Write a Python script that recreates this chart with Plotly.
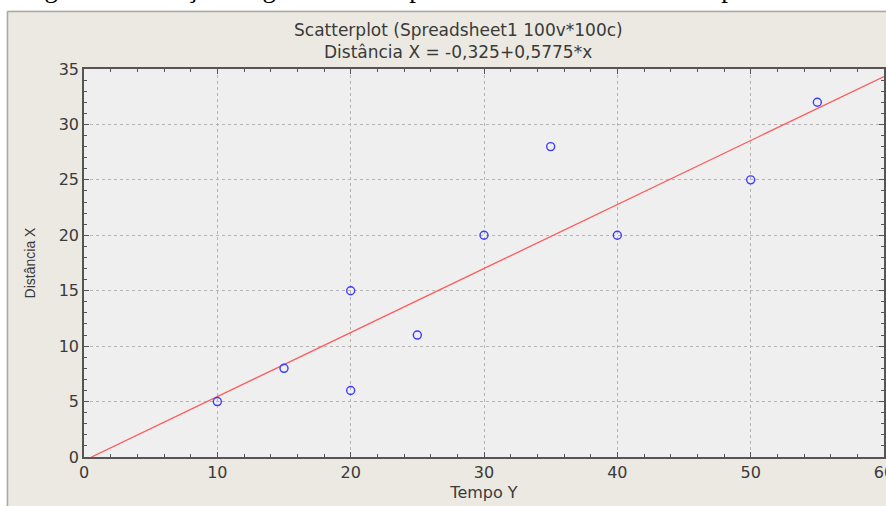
import numpy as np
import plotly.graph_objects as go

tempo = [10, 15, 20, 20, 25, 30, 35, 40, 50, 55]
distancia = [5, 8, 15, 6, 11, 20, 28, 20, 25, 32]
intercept = -0.325
slope = 0.5775
x_ticks = [0, 10, 20, 30, 40, 50, 60]
y_ticks = [0, 5, 10, 15, 20, 25, 30, 35]

W, H = 886, 506
L, R, T, B = 84, 2, 69, 49
pw, ph = W - L - R, H - T - B

def px_x(p):
    return (p - L) / pw

def px_y(p):
    return (H - B - p) / ph

x_start = -intercept / slope
x_line = np.array([x_start, 60.0])
y_line = intercept + slope * x_line

fig = go.Figure()
fig.add_trace(go.Scatter(x=x_line, y=y_line, mode="lines",
                         line=dict(color="#ff5a5a", width=1.3),
                         hoverinfo="skip", showlegend=False))
fig.add_trace(go.Scatter(x=tempo, y=distancia, mode="markers",
                         marker=dict(symbol="circle-open", size=8,
                                     color="#3c3cff", line=dict(width=1.4)),
                         showlegend=False))

TXT = "#3a3a3a"
axis_common = dict(showline=True, linecolor="#555555", linewidth=1.5,
                   mirror="allticks", ticks="inside", ticklen=5,
                   tickcolor="#555555", showgrid=True, gridcolor="#b5b5b5",
                   griddash="dot", gridwidth=1, zeroline=False,
                   ticklabeloverflow="allow", automargin=False,
                   tickfont=dict(family="DejaVu Sans", size=16, color=TXT))

fig.update_xaxes(range=[0, 60], tickvals=x_ticks, ticktext=[str(v) for v in x_ticks],
                 minor=dict(dtick=2, ticks="inside", ticklen=3, tickcolor="#555555", showgrid=False),
                 title=dict(text="Tempo Y", standoff=6,
                            font=dict(family="DejaVu Sans", size=16, color=TXT)),
                 **axis_common)
fig.update_yaxes(range=[0, 35], tickvals=y_ticks, ticktext=[str(v) for v in y_ticks],
                 minor=dict(dtick=1, ticks="inside", ticklen=3, tickcolor="#555555", showgrid=False),
                 title=dict(text="Distância X", standoff=20,
                            font=dict(family="Liberation Sans, Arial", size=14, color=TXT)),
                 **axis_common)

# white strips outside the grey STATISTICA frame
fig.add_shape(type="rect", xref="paper", yref="paper",
              x0=px_x(-20), x1=px_x(W + 20), y0=px_y(10.5), y1=px_y(-20),
              fillcolor="#ffffff", line=dict(width=0), layer="below")
fig.add_shape(type="rect", xref="paper", yref="paper",
              x0=px_x(-20), x1=px_x(6.5), y0=px_y(H + 20), y1=px_y(-20),
              fillcolor="#ffffff", line=dict(width=0), layer="below")
fig.add_shape(type="line", xref="paper", yref="paper",
              x0=px_x(7.5), x1=px_x(W + 20), y0=px_y(11.5), y1=px_y(11.5),
              line=dict(color="#a8a8a8", width=1.5))
fig.add_shape(type="line", xref="paper", yref="paper",
              x0=px_x(7.5), x1=px_x(7.5), y0=px_y(H + 20), y1=px_y(11.5),
              line=dict(color="#a8a8a8", width=1.5))

fig.add_annotation(text="Scatterplot (Spreadsheet1 100v*100c)", xref="paper", yref="paper",
                   x=px_x(458), y=px_y(30), showarrow=False, xanchor="center", yanchor="middle",
                   font=dict(family="DejaVu Sans", size=17, color=TXT))
fig.add_annotation(text="Distância X = -0,325+0,5775*x", xref="paper", yref="paper",
                   x=px_x(458), y=px_y(52), showarrow=False, xanchor="center", yanchor="middle",
                   font=dict(family="DejaVu Sans", size=17, color=TXT))
fig.add_annotation(text="Figura 11: Criação de gráfico de dispersão entre as variáveis tempo e distância.",
                   xref="paper", yref="paper", x=px_x(20), y=px_y(-12), showarrow=False,
                   xanchor="left", yanchor="middle",
                   font=dict(family="Liberation Serif, Times New Roman", size=27, color="#000000"))

fig.update_layout(width=W, height=H, margin=dict(l=L, r=R, t=T, b=B),
                  paper_bgcolor="#ebe9e1", plot_bgcolor="#efefef", showlegend=False)

fig.write_html("out.html", config={"displayModeBar": False},
               post_script="document.body.style.margin='0';")
